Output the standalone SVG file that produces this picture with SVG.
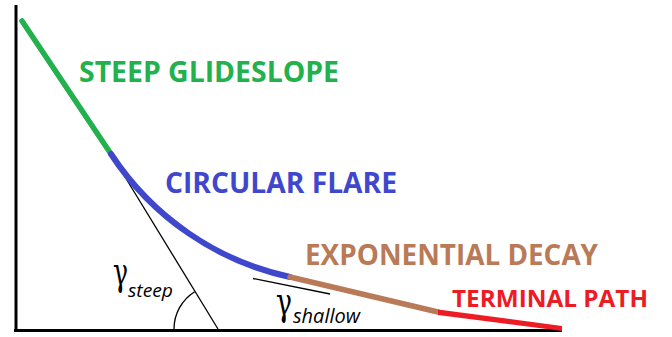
<svg xmlns="http://www.w3.org/2000/svg" width="672" height="337" viewBox="0 0 672 337">
<style>
.lbl{font-family:"Open Sans","Liberation Sans",sans-serif;font-weight:700;}
.gam{font-family:"DejaVu Serif","Liberation Serif",serif;fill:#000;}
.sub{font-family:"Open Sans","Liberation Sans",sans-serif;font-style:italic;fill:#000;}
.seg{fill:none;stroke-linecap:round;}
</style>
<rect width="672" height="337" fill="#fff"/>
<g id="axes">
<line x1="16" y1="5" x2="16" y2="331" stroke="#000" stroke-width="3"/>
<line x1="14" y1="330.5" x2="562" y2="330.5" stroke="#000" stroke-width="3"/>
</g>
<g id="construction">
<line x1="111" y1="154" x2="218" y2="329" stroke="#000" stroke-width="1.3"/>
<path d="M174,329 A44,44 0 0 1 194.7,291.7" fill="none" stroke="#000" stroke-width="1.3"/>
<line x1="253" y1="278.5" x2="330" y2="294" stroke="#000" stroke-width="1.3"/>
</g>
<g id="connectors">
<path id="steep-glideslope" class="seg" d="M22,21 L111,154" stroke="#22b14c" stroke-width="5.5"/>
<path id="circular-flare" class="seg" d="M111,154 A286,286 0 0 0 290,277" stroke="#3f48cc" stroke-width="6" stroke-linecap="butt"/>
<path id="exponential-decay" class="seg" d="M290,277 Q365,295 438,312" stroke="#b97a57" stroke-width="5.5" stroke-linecap="butt"/>
<path id="terminal-path" d="M438,309.5 L562,326 L562,331 L438,315 Z" fill="#ed1c24"/>
</g>
<g id="label-steep-glideslope"><text class="lbl" x="79" y="82" font-size="28" fill="#22b14c" textLength="260" lengthAdjust="spacingAndGlyphs">STEEP GLIDESLOPE</text></g>
<g id="label-circular-flare"><text class="lbl" x="165" y="193" font-size="28" fill="#3f48cc" textLength="232" lengthAdjust="spacingAndGlyphs">CIRCULAR FLARE</text></g>
<g id="label-exponential-decay"><text class="lbl" x="305" y="265" font-size="28" fill="#b97a57" textLength="293" lengthAdjust="spacingAndGlyphs">EXPONENTIAL DECAY</text></g>
<g id="label-terminal-path"><text class="lbl" x="452" y="307" font-size="24" fill="#ed1c24" textLength="196" lengthAdjust="spacingAndGlyphs">TERMINAL PATH</text></g>
<g id="label-gamma-steep"><text class="gam" x="113" y="285" font-size="40" textLength="15" lengthAdjust="spacingAndGlyphs">γ</text><text class="sub" x="128" y="297" font-size="19" textLength="45" lengthAdjust="spacingAndGlyphs">steep</text></g>
<g id="label-gamma-shallow"><text class="gam" x="276" y="315" font-size="40" textLength="16" lengthAdjust="spacingAndGlyphs">γ</text><text class="sub" x="293" y="323" font-size="20" textLength="67" lengthAdjust="spacingAndGlyphs">shallow</text></g>
</svg>
